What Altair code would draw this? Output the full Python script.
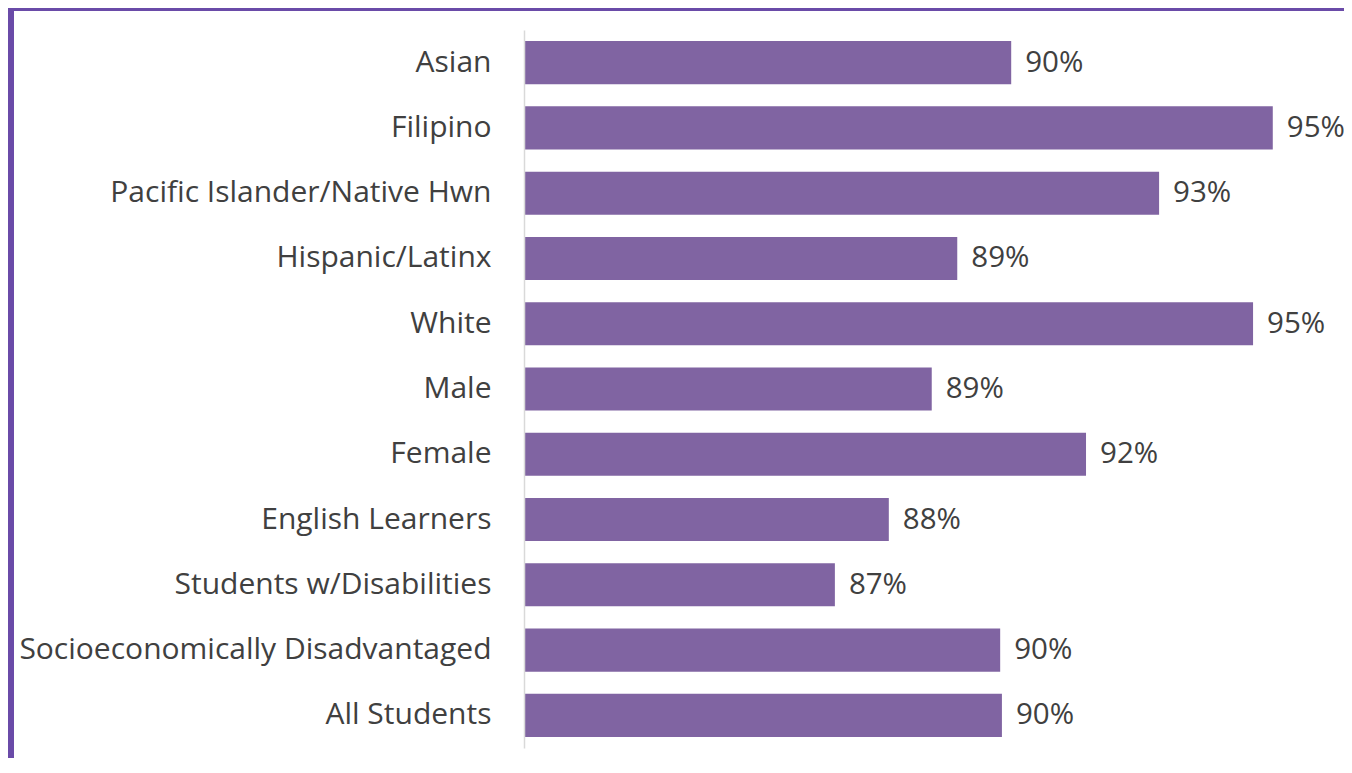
import altair as alt
import pandas as pd

categories = [
    "Asian",
    "Filipino",
    "Pacific Islander/Native Hwn",
    "Hispanic/Latinx",
    "White",
    "Male",
    "Female",
    "English Learners",
    "Students w/Disabilities",
    "Socioeconomically Disadvantaged",
    "All Students",
]
values = [0.9040, 0.9491, 0.9295, 0.8947, 0.9457, 0.8903, 0.9169, 0.8829, 0.8736, 0.9021, 0.9024]
axis_min = 0.82
axis_max = 0.96

df = pd.DataFrame({"group": categories, "rate": values})

FONT = "Open Sans"
TEXT = "#404040"
BAR = "#8064A2"

y_enc = alt.Y(
    "group:N",
    sort=categories,
    scale=alt.Scale(paddingInner=0.34, paddingOuter=0.17),
    axis=alt.Axis(
        title=None,
        ticks=False,
        labelPadding=33,
        labelLimit=0,
        labelFont=FONT,
        labelFontSize=30,
        labelColor=TEXT,
        domainColor="#d9d9d9",
        domainWidth=1.5,
        grid=False,
        zindex=1,
    ),
)
x_enc = alt.X(
    "rate:Q",
    scale=alt.Scale(domain=[axis_min, axis_max], zero=False, clamp=True),
    axis=None,
)

bars = alt.Chart(df).mark_bar(color=BAR).encode(
    y=y_enc, x=x_enc, x2=alt.datum(axis_min)
)

labels = alt.Chart(df).mark_text(
    align="left", baseline="middle", dx=14, font=FONT, fontSize=29.5, color=TEXT, clip=False
).encode(
    y=alt.Y("group:N", sort=categories),
    x="rate:Q",
    text=alt.Text("rate:Q", format=".0%"),
)

frame = pd.DataFrame({"k": [0]})
left_strip = alt.Chart(frame).mark_rect(color="#6A4BA8").encode(
    x=alt.value(-516), x2=alt.value(-510), y=alt.value(-22), y2=alt.value(743)
)
top_strip = alt.Chart(frame).mark_rect(color="#6A4BA8").encode(
    x=alt.value(-516), x2=alt.value(828), y=alt.value(-22), y2=alt.value(-19)
)

chart = (
    alt.layer(left_strip, top_strip, bars, labels)
    .properties(
        width=812,
        height=718,
        autosize=alt.AutoSizeParams(type="none"),
        padding={"left": 516, "top": 22, "right": 8, "bottom": 10},
        background="white",
    )
    .configure_view(stroke=None)
)

chart.save("out.html", embed_options={"renderer": "svg", "actions": False})
